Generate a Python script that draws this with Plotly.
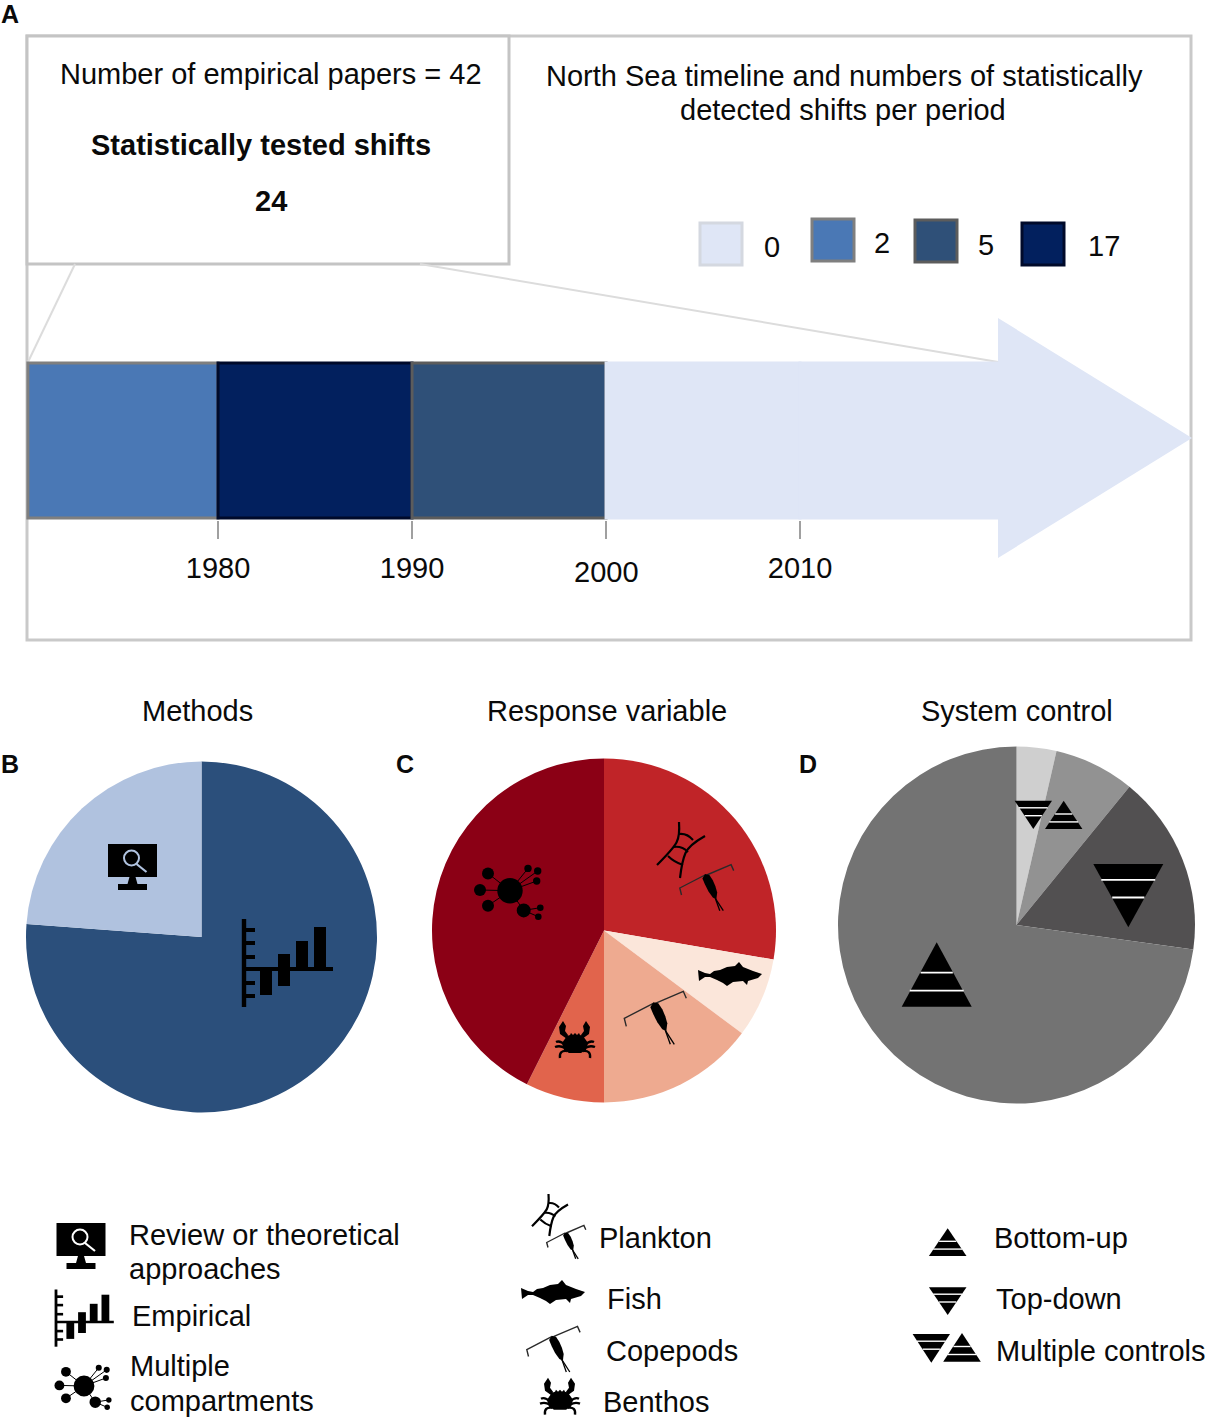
# North Sea timeline and pie panels
import plotly.graph_objects as go

W = 1205
H = 1418
FONT = "Liberation Sans"

# Panel A data
period_start = [1970.2, 1980, 1990, 2000, 2010]
period_end = [1980, 1990, 2000, 2010, 2020.2]
period_shifts = [2, 17, 5, 0, 0]
tick_years = [1980, 1990, 2000, 2010]
tick_labels = ["1980", "1990", "", "2010"]
shift_levels = [0, 2, 5, 17]
shift_fill = {0: "#dfe6f6", 2: "#4a78b5", 5: "#2f5078", 17: "#02205e"}
shift_edge = {0: "#dfe6f6", 2: "#7f7f7f", 5: "#5c5c5c", 17: "#000a2a"}

# Pie data
methods_labels = ["Empirical", "Review or theoretical approaches"]
methods_values = [32, 10]
methods_colors = ["#2b4f7b", "#b0c2df"]

response_labels = ["Plankton", "Fish", "Copepods", "Benthos", "Multiple compartments"]
response_values = [27.7, 7.5, 14.8, 7.4, 42.6]
response_colors = ["#c02428", "#fbe6da", "#eeaa90", "#e1644c", "#8b0015"]

control_labels = ["Multiple controls, top-down", "Multiple controls, bottom-up", "Top-down", "Bottom-up"]
control_values = [3.6, 7.3, 16.3, 72.8]
control_colors = ["#cfcfcf", "#929292", "#525051", "#737373"]

# Icon outlines, in pixels around each icon's own origin
fish_outline = [(-32, -5), (-25, -2), (-20, -1), (-16, -4), (-10, -5), (-3, -8), (5, -9), (9, -13), (13, -8),
                (23, -4), (32, -1), (28, 3), (18, 6), (17, 10), (13, 6), (3, 7), (-3, 11), (-7, 8), (-13, 5),
                (-20, 2), (-25, 2), (-31, 6)]
copepod_body = [(0, -1), (5, 0), (9, 6), (12, 13), (14, 20), (13, 28), (9, 26), (4, 19), (0, 11), (-3, 4)]
krill_rail_a = [(-1, -28), (0, -14), (-7, -1), (-23, 15)]
krill_rail_b = [(25, -14), (9, -5), (2, 11), (0, 28)]
krill_rungs = [((-1, -16), (7, -17), (13, -10)), ((-6, -3), (2, -4), (8, 2)), ((-12, 6), (-6, 12), (3, 15))]
crab_body = [(-13, -3), (-8, -10), (-5, -11), (-4, -13), (-2, -11), (0, -13), (2, -11), (4, -13), (5, -11),
             (8, -10), (13, -3), (11, 4), (6, 7), (-6, 7), (-11, 4)]
crab_claw = [(-12, -25), (-16, -19), (-15, -12), (-8, -7), (-7, -11), (-10, -15), (-9, -20)]
crab_legs = [[(-10, -1), (-15, -6), (-19, -4)], [(-10, 2), (-15, -1), (-20, 1)], [(-8, 5), (-16, 4), (-15, 12)]]
net_small = [(-22, -17.3, 6), (-30, -0.7, 6), (-22, 15, 6), (13.7, 19.7, 7)]
net_tiny = [(18, -22.3, 3.7), (27.7, -19.7, 3.7), (26.7, -9.7, 3.7)]
net_far = [(30.3, 17, 3.3), (28.3, 26, 3.3)]

shapes = []
annotations = []


def poly(points, cx, cy, s=1, fill="black"):
    path = "M" + " L".join(f"{cx + x * s:.1f},{cy + y * s:.1f}" for x, y in points) + " Z"
    shapes.append(dict(type="path", path=path, fillcolor=fill, line=dict(width=0), xref="x", yref="y", layer="above"))


def stroke(points, cx, cy, s=1, width=1.5, color="black"):
    path = "M" + " L".join(f"{cx + x * s:.1f},{cy + y * s:.1f}" for x, y in points)
    shapes.append(dict(type="path", path=path, line=dict(width=width, color=color), xref="x", yref="y", layer="above"))


def curve(p0, c, p1, cx, cy, s=1, width=2):
    path = (f"M{cx + p0[0] * s:.1f},{cy + p0[1] * s:.1f} Q{cx + c[0] * s:.1f},{cy + c[1] * s:.1f} "
            f"{cx + p1[0] * s:.1f},{cy + p1[1] * s:.1f}")
    shapes.append(dict(type="path", path=path, line=dict(width=width, color="black"), xref="x", yref="y", layer="above"))


def rail(points, cx, cy, s=1, width=2.2):
    # smooth line through the midpoints of the outline
    p = [(cx + x * s, cy + y * s) for x, y in points]
    path = f"M{p[0][0]:.1f},{p[0][1]:.1f}"
    for i in range(1, len(p) - 1):
        end = p[i + 1] if i == len(p) - 2 else ((p[i][0] + p[i + 1][0]) / 2, (p[i][1] + p[i + 1][1]) / 2)
        path += f" Q{p[i][0]:.1f},{p[i][1]:.1f} {end[0]:.1f},{end[1]:.1f}"
    shapes.append(dict(type="path", path=path, line=dict(width=width, color="black"), xref="x", yref="y", layer="above"))


def dot(x, y, r, fill="black", line=None, width=0):
    shapes.append(dict(type="circle", x0=x - r, x1=x + r, y0=y - r, y1=y + r, fillcolor=fill,
                       line=dict(width=width, color=line or fill), xref="x", yref="y", layer="above"))


def block(x0, y0, x1, y1, cx, cy, s=1, fill="black"):
    poly([(x0, y0), (x1, y0), (x1, y1), (x0, y1)], cx, cy, s, fill)


def monitor(cx, cy, glass):
    block(-24.5, -23, 24.5, 10, cx, cy)
    poly([(-3, 10), (3, 10), (5, 17), (-5, 17)], cx, cy)
    block(-14.5, 17, 14.5, 23, cx, cy)
    dot(cx - 1, cy - 9, 7.5, fill="rgba(0,0,0,0)", line=glass, width=2)
    stroke([(4, -3), (14, 5)], cx, cy, 1, 2.2, glass)


def bar_icon(cx, cy, s):
    block(-2.2, -50, 2.2, 38, cx, cy, s)
    block(0, -2, 89, 2, cx, cy, s)
    for tick in [-39, -26, -12, 14, 27]:
        block(0, tick - 2, 11, tick + 2, cx, cy, s)
    block(16, 0, 28, 26, cx, cy, s)
    block(34, -15, 46, 17, cx, cy, s)
    block(52, -28, 64, 0, cx, cy, s)
    block(70, -42, 82, 0, cx, cy, s)


def network(cx, cy, s):
    dot(cx, cy, 12.7 * s)
    for x, y, r in net_small:
        stroke([(0, 0), (x, y)], cx, cy, s, 1)
        dot(cx + x * s, cy + y * s, r * s)
    for x, y, r in net_tiny:
        stroke([(0, 0), (x, y)], cx, cy, s, 1)
        dot(cx + x * s, cy + y * s, r * s)
    for x, y, r in net_far:
        stroke([net_small[3][:2], (x, y)], cx, cy, s, 1)
        dot(cx + x * s, cy + y * s, r * s)


def copepod(cx, cy, s):
    stroke([(0, 0), (-29, 15), (-27, 23)], cx, cy, s, 1.4, "#2a2a2a")
    stroke([(2, 0), (30, -12), (33, -5)], cx, cy, s, 1.4, "#2a2a2a")
    poly(copepod_body, cx, cy, s)
    stroke([(12, 27), (17, 41)], cx, cy, s, 1.3)
    stroke([(12, 27), (21, 41)], cx, cy, s, 1.3)


def krill(cx, cy, s):
    rail(krill_rail_a, cx, cy, s)
    rail(krill_rail_b, cx, cy, s)
    for p0, c, p1 in krill_rungs:
        curve(p0, c, p1, cx, cy, s, 2)


def crab(cx, cy):
    poly(crab_body, cx, cy)
    poly(crab_claw, cx, cy)
    poly([(-x - 1, y) for x, y in crab_claw], cx, cy)
    for leg in crab_legs:
        curve(leg[0], leg[1], leg[2], cx, cy, 1, 2.4)
        curve((-leg[0][0], leg[0][1]), (-leg[1][0], leg[1][1]), (-leg[2][0], leg[2][1]), cx, cy, 1, 2.4)


def triangle(cx, apex, base, half, line=1.8):
    # apex above base points up, apex below base points down
    poly([(0, apex), (half, base), (-half, base)], cx, 0)
    for frac, part in [(0.47, 0.46), (0.75, 0.77)]:
        y = apex + (base - apex) * frac
        stroke([(-half * part, y), (half * part, y)], cx, 0, 1, line, "white")


def label(x, y, text, size=29, anchor="left", bold=False):
    if bold:
        text = f"<b>{text}</b>"
    annotations.append(dict(x=x, y=y, xref="x", yref="y", text=text, showarrow=False, xanchor=anchor, yanchor="middle",
                            font=dict(family=FONT, size=size, color="#0a0a0a")))


def pie_domain(cx, cy, r):
    return dict(x=[(cx - r) / W, (cx + r) / W], y=[1 - (cy + r) / H, 1 - (cy - r) / H])


fig = go.Figure()

# Frames behind everything, drawn on the pixel axes
shapes.append(dict(type="rect", x0=27, x1=1191, y0=36, y1=640, line=dict(color="#c9c9c9", width=3), xref="x", yref="y", layer="below"))
shapes.append(dict(type="rect", x0=27, x1=509, y0=36, y1=264, fillcolor="white", line=dict(color="#c4c4c4", width=3), xref="x", yref="y", layer="below"))
shapes.append(dict(type="path", path="M998,318 L1192,438 L998,558 Z", fillcolor=shift_fill[0], line=dict(width=0), xref="x", yref="y", layer="below"))

fig.add_trace(go.Scatter(x=[75, 28, None, 420, 998], y=[264, 362, None, 264, 362], mode="lines",
                         line=dict(color="#dcdcdc", width=2), hoverinfo="skip", showlegend=False, xaxis="x", yaxis="y"))

# Timeline bar
fig.add_trace(go.Bar(
    y=[0.5] * len(period_start),
    x=[e - s for s, e in zip(period_start, period_end)],
    base=period_start,
    width=1,
    orientation="h",
    marker=dict(color=[shift_fill[n] for n in period_shifts],
                line=dict(color=[shift_edge[n] for n in period_shifts], width=3)),
    showlegend=False,
    xaxis="x2",
    yaxis="y2",
))

# Pies
fig.add_trace(go.Pie(labels=methods_labels, values=methods_values, sort=False, direction="clockwise", rotation=0,
                     marker=dict(colors=methods_colors, line=dict(width=0)), textinfo="none", showlegend=False,
                     domain=pie_domain(201.5, 937, 175.5)))
fig.add_trace(go.Pie(labels=response_labels, values=response_values, sort=False, direction="clockwise", rotation=0,
                     marker=dict(colors=response_colors, line=dict(width=0)), textinfo="none", showlegend=False,
                     domain=pie_domain(604, 930.5, 172)))
fig.add_trace(go.Pie(labels=control_labels, values=control_values, sort=False, direction="clockwise", rotation=0,
                     marker=dict(colors=control_colors, line=dict(width=0)), textinfo="none", showlegend=False,
                     domain=pie_domain(1016.5, 925, 178.5)))

# Icons on the pies
monitor(132.5, 867, methods_colors[1])
bar_icon(244, 969, 1)
network(510, 890.7, 1)
krill(680, 850, 1)
copepod(705, 875, 0.87)
poly(fish_outline, 730, 975)
copepod(653.3, 1003.3, 1)
crab(575, 1046)
triangle(936.7, 942.3, 1006.7, 35)
triangle(1128.3, 927.3, 864, 35)
triangle(1033.3, 829, 800.7, 18.7, 1.4)
triangle(1063.7, 800.7, 829, 18.7, 1.4)

# Icons in the key
monitor(81, 1246, "white")
bar_icon(56, 1322, 0.65)
network(84, 1386, 0.82)
krill(549.3, 1215, 0.75)
copepod(565, 1233, 0.63)
poly(fish_outline, 553, 1293)
copepod(551.7, 1336.7, 0.86)
crab(560, 1402.7)
triangle(947.7, 1228.3, 1256, 18.8, 1.4)
triangle(947.7, 1315, 1287.3, 18.8, 1.4)
triangle(931.3, 1362.7, 1334, 18.7, 1.4)
triangle(962, 1333, 1361.7, 18.8, 1.4)

# Swatches for the shift counts
for n, (x0, y0) in zip(shift_levels, [(700, 223), (812, 219), (915, 220), (1022, 223)]):
    edge = "#d4d8e0" if n == 0 else shift_edge[n]
    shapes.append(dict(type="rect", x0=x0, x1=x0 + 42, y0=y0, y1=y0 + 42, fillcolor=shift_fill[n],
                       line=dict(color=edge, width=3), xref="x", yref="y"))
for n, x, y in zip(shift_levels, [772, 882, 986, 1104], [247, 243, 245, 246]):
    label(x, y, str(n), 29, "center")

# Text of panel A
label(10, 14, "A", 25, "center", True)
label(271, 74, "Number of empirical papers = 42", 29, "center")
label(261, 145, "Statistically tested shifts", 29, "center", True)
label(271, 201, "24", 29, "center", True)
label(844, 76, "North Sea timeline and numbers of statistically", 29, "center")
label(843, 110, "detected shifts per period", 29, "center")
annotations.append(dict(x=2000, y=572, xref="x2", yref="y", text="2000", showarrow=False, yanchor="middle",
                        font=dict(family=FONT, size=29, color="#0a0a0a")))

# Titles and panel letters
label(197, 711, "Methods", 29, "center")
label(607, 711, "Response variable", 29, "center")
label(1017, 711, "System control", 29, "center")
label(10, 764, "B", 25, "center", True)
label(405, 764, "C", 25, "center", True)
label(808, 764, "D", 25, "center", True)

# Key text, annotation padding moves it about 2px to the right
label(127, 1235, "Review or theoretical")
label(127, 1269, "approaches")
label(130, 1316, "Empirical")
label(128, 1366, "Multiple")
label(128, 1401, "compartments")
label(597, 1238, "Plankton")
label(605, 1299, "Fish")
label(604, 1351, "Copepods")
label(601, 1402, "Benthos")
label(992, 1238, "Bottom-up")
label(994, 1299, "Top-down")
label(994, 1351, "Multiple controls")

fig.update_layout(
    width=W,
    height=H,
    margin=dict(l=0, r=0, t=0, b=0),
    paper_bgcolor="white",
    plot_bgcolor="rgba(0,0,0,0)",
    barmode="overlay",
    shapes=shapes,
    annotations=annotations,
    xaxis=dict(domain=[0, 1], range=[0, W], visible=False, fixedrange=True),
    yaxis=dict(domain=[0, 1], range=[H, 0], visible=False, fixedrange=True),
    xaxis2=dict(domain=[24 / W, 1192 / W], range=[1970, 2030.2], anchor="y2", showgrid=False, zeroline=False,
                showline=False, ticks="outside", ticklen=18, tickwidth=2, tickcolor="#a0a0a0",
                tickvals=tick_years, ticktext=tick_labels, tickfont=dict(family=FONT, size=29, color="#0a0a0a"),
                ticklabelstandoff=4, fixedrange=True),
    yaxis2=dict(domain=[1 - 520 / H, 1 - 361 / H], range=[-0.0129, 1.0129], anchor="x2", visible=False, fixedrange=True),
)

fig.write_html("out.html", config=dict(displayModeBar=False), post_script="document.body.style.margin='0'")
